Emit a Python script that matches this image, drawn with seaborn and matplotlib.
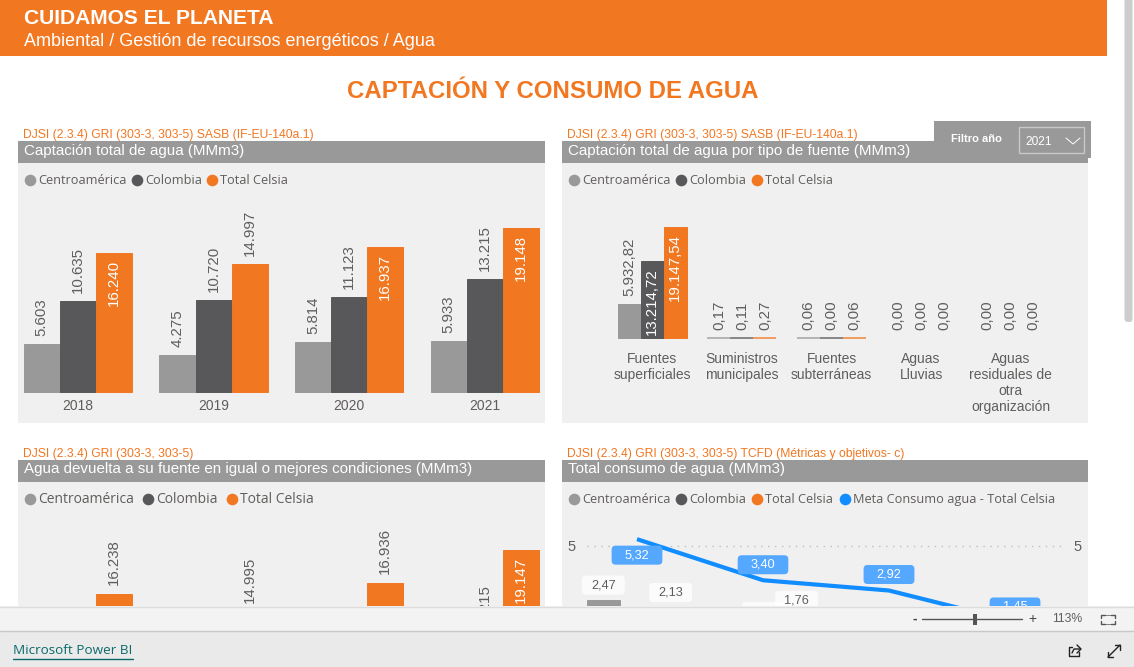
import matplotlib
matplotlib.use('Agg')
import matplotlib.pyplot as plt
from matplotlib.patches import Rectangle, FancyBboxPatch, BoxStyle
import pandas as pd
import seaborn as sns

W, H = 1134, 667
ORANGE = '#F27721'
GRAY = '#999999'
DARK = '#58585A'
BLUE = '#118DFF'
TEXT = '#605E5C'
PANEL = '#F0F0F0'

years = ['2018', '2019', '2020', '2021']
regions = ['Centroamérica', 'Colombia', 'Total Celsia']
goal_name = 'Meta Consumo agua - Total Celsia'
region_colors = [GRAY, DARK, ORANGE]

# captacion total
capt_centro = [5603, 4275, 5814, 5933]
capt_colombia = [10635, 10720, 11123, 13215]
capt_total = [16240, 14997, 16937, 19148]

# por tipo de fuente, 2021
sources = ['Fuentes\nsuperficiales', 'Suministros\nmunicipales', 'Fuentes\nsubterráneas',
           'Aguas\nLluvias', 'Aguas\nresiduales de\notra\norganización']
src_centro = [5932.82, 0.17, 0.06, 0, 0]
src_colombia = [13214.72, 0.11, 0.004, 0, 0]
src_total = [19147.54, 0.27, 0.06, 0, 0]

# agua devuelta, only the top of it is on screen
back_centro = [5603, 4275, 5814, 5933]
back_colombia = [10635, 10720, 11123, 13215]
back_total = [16238, 14995, 16936, 19147]

# consumo, most of these bars are hidden by the footer
cons_centro = [2.47, 1.10, 0.90, 0.80]
cons_colombia = [0.40, 1.24, 0.60, 0.50]
cons_total = [2.13, 1.76, 0.95, 0.85]
cons_goal = [5.32, 3.40, 2.92, 1.45]

sns.set_theme(style='white')
plt.rcParams['font.family'] = ['Liberation Sans', 'DejaVu Sans']

fig = plt.figure(figsize=(W / 100, H / 100), dpi=100, facecolor='white')


def px_axes(left, top, right, bottom, zorder):
    ax = fig.add_axes([left / W, 1 - bottom / H, (right - left) / W, (bottom - top) / H], zorder=zorder)
    ax.patch.set_alpha(0)
    return ax


back = px_axes(0, 0, W, H, 0)
back.set_xlim(0, W)
back.set_ylim(H, 0)
back.axis('off')
front = px_axes(0, 0, W, H, 5)
front.set_xlim(0, W)
front.set_ylim(H, 0)
front.axis('off')


def long_table(names, series):
    rows = []
    for region, vals in zip(regions, series):
        for n, v in zip(names, vals):
            rows.append({'cat': n, 'region': region, 'value': v})
    return pd.DataFrame(rows)


def bars(ax, names, series, ymax, width=0.8):
    sns.barplot(data=long_table(names, series), x='cat', y='value', hue='region', hue_order=regions,
                palette=region_colors, width=width, gap=0, saturation=1, legend=False, ax=ax, linewidth=0.7)
    for cont in ax.containers:
        for rect in cont:
            rect.set_edgecolor(rect.get_facecolor())
            rect.set_clip_on(False)
    ax.set_ylim(0, ymax)
    ax.set_xlim(-0.5, len(names) - 0.5)
    ax.set_xlabel('')
    ax.set_ylabel('')
    ax.set_yticks([])
    sns.despine(ax=ax, left=True, bottom=True)
    ax.tick_params(axis='x', length=0, pad=5, labelsize=10, labelcolor=TEXT)


def thousands(v):
    return f'{v:,.0f}'.replace(',', '.')


def decimals(v):
    return f'{v:,.2f}'.replace(',', '#').replace('.', ',').replace('#', '.')


def labels_up(ax, fmt, inside, min_value=-1, pad=8):
    for region, cont in zip(regions, ax.containers):
        for rect, v in zip(cont, cont.datavalues):
            if v < min_value:
                continue
            lab = fmt(v)
            x = rect.get_x() + rect.get_width() / 2
            if (region, lab) in inside:
                ax.annotate(lab, (x, v), xytext=(0, -7), textcoords='offset pixels', rotation=90, ha='center',
                            va='top', color='white', fontsize=10.8, annotation_clip=False)
            else:
                ax.annotate(lab, (x, v), xytext=(0, pad), textcoords='offset pixels', rotation=90, ha='center',
                            va='bottom', color=TEXT, fontsize=10.8, annotation_clip=False)


def label_box(padx, pady):
    # same height as a normal pill but wider, pad= alone can't do that
    def style(x0, y0, w, h, mutation_size):
        return BoxStyle.Round(pad=0, rounding_size=4)(x0 - padx, y0 - pady, w + 2 * padx, h + 2 * pady, 1)
    return style


def panel(left, right, top, ref, title, names, legend_size=9.2):
    back.add_patch(Rectangle((left, top + 22), right - left, 260, color=PANEL, lw=0))
    back.add_patch(Rectangle((left, top), right - left, 22, color=GRAY, lw=0))
    back.text(left + 5, top - 6, ref, color=ORANGE, fontsize=8.7, va='center')
    back.text(left + 6, top + 9.5, title, color='white', fontsize=10.9, va='center')
    for name, x, color in names:
        back.scatter([x], [top + 39], s=70, color=color, lw=0)
        back.text(x + 8, top + 39.5, name, color=TEXT, fontsize=legend_size, va='center', family='Open Sans')


# panel 1
panel(18, 545, 141, 'DJSI (2.3.4) GRI (303-3, 303-5) SASB (IF-EU-140a.1)', 'Captación total de agua (MMm3)',
      [(regions[0], 30, GRAY), (regions[1], 137, DARK), (regions[2], 212, ORANGE)])
ax1 = px_axes(10.2, 192, 552.6, 392, 1)
bars(ax1, years, [capt_centro, capt_colombia, capt_total], 200 / 0.00856)
labels_up(ax1, thousands, {(regions[2], thousands(v)) for v in [16240, 16937, 19148]})

# panel 2
panel(562, 1088, 141, 'DJSI (2.3.4) GRI (303-3, 303-5) SASB (IF-EU-140a.1)', 'Captación total de agua por tipo de fuente (MMm3)',
      [(regions[0], 574, GRAY), (regions[1], 681, DARK), (regions[2], 757, ORANGE)])
ax2 = px_axes(607.5, 192, 1055.5, 338, 1)
bars(ax2, sources, [src_centro, src_colombia, src_total], 146 / 0.0058, width=0.77)
ax2.tick_params(axis='x', pad=10)
for cont in ax2.containers:
    for rect, v in zip(cont, cont.datavalues):
        if v == 0:
            rect.set_visible(False)
        elif v < 1:
            # hairline bars, washed out in the reference
            rect.set_linewidth(1.3)
            rect.set_alpha(0.75)
labels_up(ax2, decimals, {(regions[1], '13.214,72'), (regions[2], '19.147,54')})

# panel 3
panel(18, 545, 460, 'DJSI (2.3.4) GRI (303-3, 303-5)', 'Agua devuelta a su fuente en igual o mejores condiciones (MMm3)',
      [(regions[0], 30, GRAY), (regions[1], 148, DARK), (regions[2], 232, ORANGE)], legend_size=10)
ax3 = px_axes(10.2, 500, 552.6, 836, 1)
bars(ax3, years, [back_centro, back_colombia, back_total], 336 / 0.01493)
ax3.tick_params(axis='x', labelbottom=False)
labels_up(ax3, thousands, {(regions[2], '19.147')}, min_value=13000, pad=9)

# panel 4
panel(562, 1088, 460, 'DJSI (2.3.4) GRI (303-3, 303-5) TCFD (Métricas y objetivos- c)', 'Total consumo de agua (MMm3)',
      [(regions[0], 574, GRAY), (regions[1], 681, DARK), (regions[2], 757, ORANGE), (goal_name, 845, BLUE)])
ax4 = px_axes(574, 530, 1078, 653, 1)
bars(ax4, years, [cons_centro, cons_colombia, cons_total], 123 / 21.4)
ax4.tick_params(axis='x', labelbottom=False)
ax4.axhline(5, color='#BDBDBD', lw=1, ls=(0, (1, 4)), xmin=0.025, xmax=0.975, zorder=0)
ax4.annotate('5', (0, 5), xycoords=('axes fraction', 'data'), ha='center', va='center', color=TEXT, fontsize=10.5, xytext=(-2, -1), textcoords='offset pixels')
ax4.annotate('5', (1, 5), xycoords=('axes fraction', 'data'), ha='center', va='center', color=TEXT, fontsize=10.5, xytext=(0, -1), textcoords='offset pixels')
sns.lineplot(x=years, y=cons_goal, color=BLUE, lw=3, ax=ax4, errorbar=None, solid_capstyle='butt')
ax4.set_xlim(-0.5, 3.5)
ax4.set_ylim(0, 123 / 21.4)
for cont in ax4.containers:
    for rect, v in zip(cont, cont.datavalues):
        if v < 1.2:
            continue
        ax4.annotate(decimals(v), (rect.get_x() + rect.get_width() / 2, v), xytext=(0, 15), textcoords='offset pixels',
                     ha='center', va='center', color=TEXT, fontsize=9.2, annotation_clip=False,
                     bbox=dict(boxstyle=label_box(9, 3.5), fc='white', ec='none', alpha=0.8))
goal_offsets = [-16, 15.5, 16, 15]
for i, v in enumerate(cons_goal):
    ax4.annotate(decimals(v), (i, v), xytext=(0, goal_offsets[i]), textcoords='offset pixels', ha='center', va='center',
                 color='white', fontsize=9.2, annotation_clip=False, zorder=6,
                 bbox=dict(boxstyle=label_box(13, 3.5), fc='#55A8FF', ec='none'))

# cabecera
front.add_patch(Rectangle((0, 0), 1107, 56, color=ORANGE, lw=0))
front.text(24, 19, 'CUIDAMOS EL PLANETA', color='white', fontsize=15.1, fontweight='bold', va='center')
front.text(24, 42, 'Ambiental / Gestión de recursos energéticos / Agua', color='white', fontsize=12.95, va='center')
back.text(552.5, 91.5, 'CAPTACIÓN Y CONSUMO DE AGUA', color=ORANGE, fontsize=17.3, fontweight='bold', ha='center', va='center')

# filtro
front.add_patch(Rectangle((934, 121), 157, 37, color=GRAY, lw=0))
front.text(976, 139, 'Filtro año', color='white', fontsize=8, fontweight='bold', ha='center', va='center')
front.add_patch(Rectangle((1019, 126.5), 65, 26.5, fc='none', ec='#C8C8C8', lw=1))
front.text(1025, 142, '2021', color='white', fontsize=8.6, va='center')
front.plot([1066, 1073, 1080], [138, 144, 138], color='white', lw=0.7)

# barra de scroll
back.add_patch(FancyBboxPatch((1124.5, -6), 8, 328, boxstyle='round,pad=0,rounding_size=3', fc='#CDCDCD', ec='none'))

# pie
front.add_patch(Rectangle((0, 606), W, 25, color='#F3F3F3', lw=0))
front.add_patch(Rectangle((0, 631), W, 36, color='#EAEAEA', lw=0))
front.plot([0, W], [606.5, 606.5], color='#DCDCDC', lw=1)
front.plot([0, W], [630.5, 630.5], color='#C8C8C8', lw=1)
front.text(13, 651, 'Microsoft Power BI', color='#0B6A6A', fontsize=9.7, va='center', family='Open Sans')
front.plot([13, 133], [658.5, 658.5], color='#0B6A6A', lw=1)
front.text(915, 619, '-', color='#444444', fontsize=10, ha='center', va='center', fontweight='bold')
front.plot([922, 1022], [619, 619], color='#555555', lw=1)
front.add_patch(Rectangle((973, 614), 4, 11, color='#555555', lw=0))
front.text(1032, 618.5, '+', color='#444444', fontsize=10, ha='center', va='center')
front.text(1067, 619, '113%', color=TEXT, fontsize=8.8, ha='center', va='center')
# marco de ajuste
for xs, ys in [([1101, 1101, 1105], [618, 615, 615]), ([1111, 1115, 1115], [615, 615, 618]),
               ([1101, 1101, 1105], [621, 624, 624]), ([1111, 1115, 1115], [624, 624, 621])]:
    front.plot(xs, ys, color='#555555', lw=1)
front.plot([1101, 1115], [615, 615], color='#555555', lw=0.5)
front.plot([1101, 1115], [624, 624], color='#555555', lw=0.5)
# iconos
front.plot([1072, 1069, 1069, 1079, 1079], [647, 647, 656, 656, 652], color='#222222', lw=1)
front.plot([1072, 1074, 1080], [653, 649, 649], color='#222222', lw=1)
front.plot([1077, 1081, 1077], [645, 649, 653], color='#222222', lw=1)
front.plot([1108, 1120], [657, 645], color='#222222', lw=1)
front.plot([1108, 1108, 1113], [652, 657, 657], color='#222222', lw=1)
front.plot([1115, 1120, 1120], [645, 645, 650], color='#222222', lw=1)

fig.savefig('out.png', dpi=100)
